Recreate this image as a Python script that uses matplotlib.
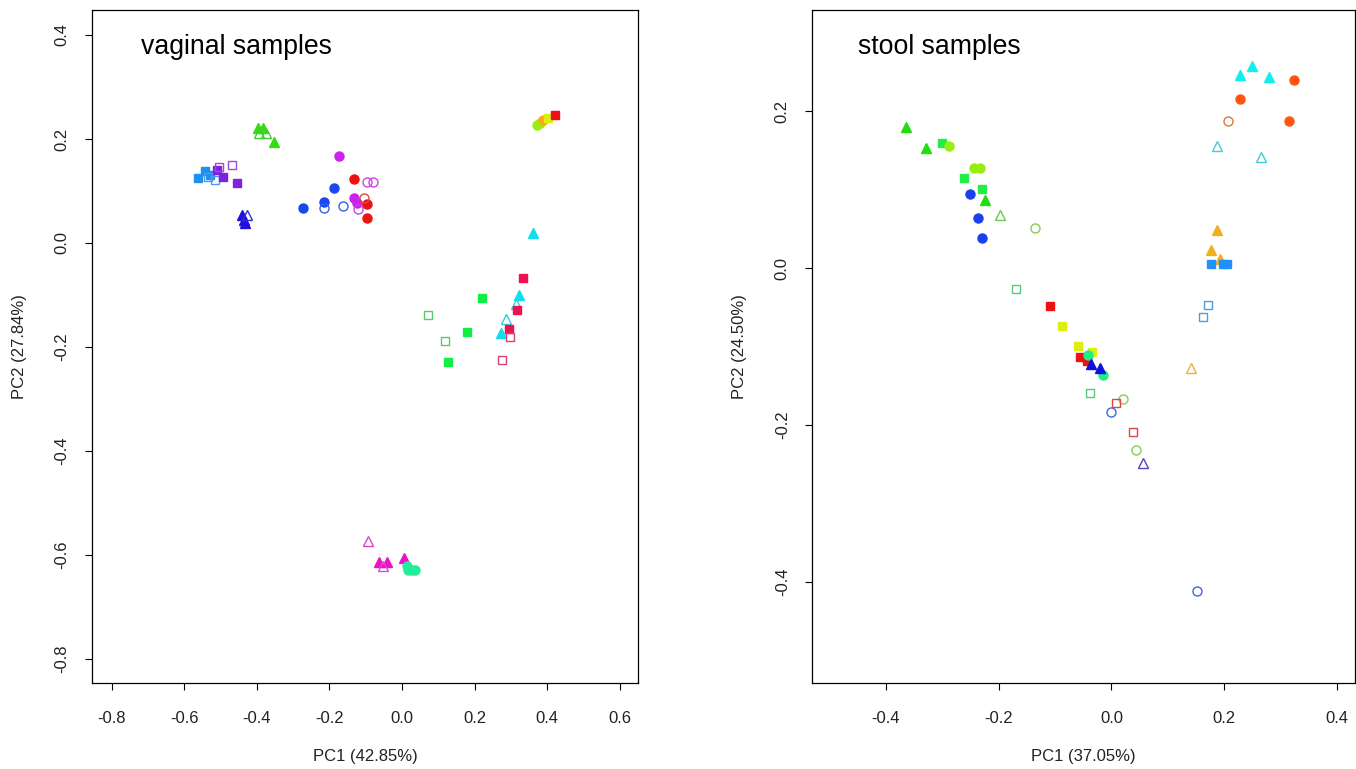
import matplotlib
matplotlib.use("Agg")
import matplotlib.pyplot as plt

plt.rcParams["font.family"] = ["Liberation Sans", "DejaVu Sans"]

# vaginal samples: PC1 / PC2 coordinates per group
vag_groups = {
    "ltblue_sq":      ([-0.563, -0.543, -0.529], [0.124, 0.138, 0.131]),
    "ltblue_sq_o":    ([-0.515, -0.535], [0.122, 0.126]),
    "purple_sq":      ([-0.509, -0.492, -0.455], [0.140, 0.126, 0.116]),
    "purple_sq_o":    ([-0.503, -0.467], [0.147, 0.150]),
    "green_tri":      ([-0.396, -0.382, -0.352], [0.221, 0.221, 0.195]),
    "green_tri_o":    ([-0.393, -0.375], [0.212, 0.212]),
    "blue_tri":       ([-0.442, -0.432, -0.436], [0.054, 0.038, 0.045]),
    "blue_tri_o":     ([-0.428], [0.054]),
    "blue_ci":        ([-0.272, -0.214, -0.186], [0.067, 0.078, 0.106]),
    "blue_ci_o":      ([-0.214, -0.163], [0.067, 0.072]),
    "violet_ci":      ([-0.174, -0.131, -0.124], [0.168, 0.087, 0.077]),
    "violet_ci_o":    ([-0.096, -0.079, -0.120], [0.117, 0.117, 0.065]),
    "red_ci":         ([-0.132, -0.097, -0.096], [0.123, 0.075, 0.048]),
    "red_ci_o":       ([-0.104], [0.086]),
    "cyan_tri":       ([0.362, 0.323, 0.272], [0.020, -0.100, -0.174]),
    "cyan_tri_o":     ([0.286, 0.314], [-0.147, -0.118]),
    "crimson_sq":     ([0.333, 0.316, 0.296], [-0.068, -0.129, -0.165]),
    "crimson_sq_o":   ([0.298, 0.275], [-0.181, -0.226]),
    "green_sq":       ([0.220, 0.178, 0.126], [-0.105, -0.171, -0.228]),
    "green_sq_o":     ([0.072, 0.118], [-0.138, -0.188]),
    "magenta_tri":    ([-0.063, -0.042, 0.006], [-0.613, -0.613, -0.605]),
    "magenta_tri_o":  ([-0.094, -0.051], [-0.574, -0.622]),
    "mint_ci":        ([0.013, 0.027, 0.036, 0.017], [-0.622, -0.628, -0.629, -0.629]),
    "yg_ci":          ([0.371, 0.380], [0.227, 0.231]),
    "orange_ci":      ([0.389], [0.237]),
    "yellow_sq":      ([0.403], [0.240]),
    "red_sq":         ([0.421], [0.246]),
}

# stool samples
stool_groups = {
    "green_tri":      ([-0.365, -0.328, -0.224], [0.180, 0.153, 0.087]),
    "green_tri_o":    ([-0.197], [0.068]),
    "green_sq":       ([-0.301, -0.261, -0.230], [0.159, 0.115, 0.101]),
    "yg_ci":          ([-0.288, -0.243, -0.233], [0.156, 0.128, 0.128]),
    "blue_ci":        ([-0.250, -0.236, -0.230], [0.095, 0.064, 0.038]),
    "cyan_tri":       ([0.250, 0.228, 0.279], [0.258, 0.246, 0.244]),
    "cyan_tri_o":     ([0.188, 0.265], [0.155, 0.141]),
    "orred_ci":       ([0.323, 0.228, 0.315], [0.240, 0.215, 0.188]),
    "orred_ci_o":     ([0.206], [0.188]),
    "ltgreen_ci_o":   ([-0.136, 0.021, 0.043], [0.051, -0.167, -0.232]),
    "green_sq_o":     ([-0.170, -0.038], [-0.027, -0.160]),
    "red_sq":         ([-0.109, -0.056, -0.044], [-0.048, -0.113, -0.119]),
    "yellow_sq":      ([-0.088, -0.059, -0.035], [-0.074, -0.100, -0.107]),
    "mint_ci":        ([-0.041, -0.015], [-0.111, -0.136]),
    "blue_tri":       ([-0.037, -0.020], [-0.122, -0.127]),
    "orange_tri":     ([0.188, 0.176, 0.192], [0.048, 0.023, 0.012]),
    "orange_tri_o":   ([0.141], [-0.127]),
    "dblue_sq":       ([0.177, 0.198, 0.205], [0.005, 0.005, 0.005]),
    "dblue_sq_o":     ([0.172, 0.163], [-0.047, -0.062]),
    "red_sq_o":       ([0.008, 0.039], [-0.172, -0.209]),
    "blue_ci_o":      ([0.000, 0.151], [-0.184, -0.412]),
    "slate_tri_o":    ([0.056], [-0.248]),
}

# marker, colour, filled
vag_style = {
    "ltblue_sq": ("s", "#1E90F0", True), "ltblue_sq_o": ("s", "#4A9BE8", False),
    "purple_sq": ("s", "#8020E0", True), "purple_sq_o": ("s", "#9A4BE0", False),
    "green_tri": ("^", "#33DD11", True), "green_tri_o": ("^", "#44CC33", False),
    "blue_tri": ("^", "#2010E0", True), "blue_tri_o": ("^", "#3030D8", False),
    "blue_ci": ("o", "#1A48F0", True), "blue_ci_o": ("o", "#3560E8", False),
    "violet_ci": ("o", "#CC22EE", True), "violet_ci_o": ("o", "#CC44DD", False),
    "red_ci": ("o", "#EE1111", True), "red_ci_o": ("o", "#E04444", False),
    "cyan_tri": ("^", "#11DDEE", True), "cyan_tri_o": ("^", "#33CCDD", False),
    "crimson_sq": ("s", "#EE1150", True), "crimson_sq_o": ("s", "#D04477", False),
    "green_sq": ("s", "#11EE44", True), "green_sq_o": ("s", "#55CC66", False),
    "magenta_tri": ("^", "#EE11CC", True), "magenta_tri_o": ("^", "#DD44CC", False),
    "mint_ci": ("o", "#22EE99", True),
    "yg_ci": ("o", "#99EE11", True), "orange_ci": ("o", "#FFAA11", True),
    "yellow_sq": ("s", "#DDEE11", True), "red_sq": ("s", "#EE1111", True),
}
stool_style = {
    "green_tri": ("^", "#22DD11", True), "green_tri_o": ("^", "#66CC55", False),
    "green_sq": ("s", "#22EE44", True), "yg_ci": ("o", "#99EE11", True),
    "blue_ci": ("o", "#1A3FEE", True),
    "cyan_tri": ("^", "#11EEEE", True), "cyan_tri_o": ("^", "#44CCDD", False),
    "orred_ci": ("o", "#FF5511", True), "orred_ci_o": ("o", "#DD7744", False),
    "ltgreen_ci_o": ("o", "#88CC55", False), "green_sq_o": ("s", "#55CC77", False),
    "red_sq": ("s", "#EE1111", True), "yellow_sq": ("s", "#DDEE11", True),
    "mint_ci": ("o", "#22EE88", True), "blue_tri": ("^", "#1111DD", True),
    "orange_tri": ("^", "#F0B020", True), "orange_tri_o": ("^", "#EEB044", False),
    "dblue_sq": ("s", "#1E90FF", True), "dblue_sq_o": ("s", "#5599DD", False),
    "red_sq_o": ("s", "#DD4444", False), "blue_ci_o": ("o", "#4466DD", False),
    "slate_tri_o": ("^", "#5544BB", False),
}

vag_xticks = [-0.8, -0.6, -0.4, -0.2, 0.0, 0.2, 0.4, 0.6]
vag_yticks = [-0.8, -0.6, -0.4, -0.2, 0.0, 0.2, 0.4]
stool_xticks = [-0.4, -0.2, 0.0, 0.2, 0.4]
stool_yticks = [-0.4, -0.2, 0.0, 0.2]


def draw(ax, groups, style):
    for key, (xs, ys) in groups.items():
        m, c, filled = style[key]
        ms = 7.5 if m == "^" else 6.5
        if m == "s":
            ms = 6.0
        ax.plot(xs, ys, linestyle="none", marker=m, markersize=ms,
                markerfacecolor=c if filled else "none", markeredgecolor=c,
                markeredgewidth=1.0)


def style_axes(ax, xticks, yticks):
    ax.set_xticks(xticks)
    ax.set_yticks(yticks)
    ax.set_xticklabels(["%.1f" % t for t in xticks])
    ax.set_yticklabels(["%.1f" % t for t in yticks], rotation=90, va="center")
    ax.tick_params(axis="both", labelsize=12, direction="out", length=5,
                   labelcolor="#222222")
    ax.tick_params(axis="x", pad=15)
    ax.tick_params(axis="y", pad=11)
    for s in ax.spines.values():
        s.set_linewidth(0.9)


fig = plt.figure(figsize=(13.56, 7.69), dpi=100)
ax1 = fig.add_axes([0.0678, 0.112, 0.4027, 0.875])
ax2 = fig.add_axes([0.5988, 0.112, 0.4005, 0.875])

draw(ax1, vag_groups, vag_style)
ax1.set_xlim(-0.854, 0.650)
ax1.set_ylim(-0.846, 0.448)
style_axes(ax1, vag_xticks, vag_yticks)
ax1.set_xlabel("PC1 (42.85%)", fontsize=12, labelpad=17, color="#222222")
ax1.set_ylabel("PC2 (27.84%)", fontsize=12, labelpad=20, color="#222222")
ax1.text(0.09, 0.945, "vaginal samples", transform=ax1.transAxes, fontsize=19.2,
         va="center", ha="left")

draw(ax2, stool_groups, stool_style)
ax2.set_xlim(-0.531, 0.432)
ax2.set_ylim(-0.529, 0.329)
style_axes(ax2, stool_xticks, stool_yticks)
ax2.set_xlabel("PC1 (37.05%)", fontsize=12, labelpad=17, color="#222222")
ax2.set_ylabel("PC2 (24.50%)", fontsize=12, labelpad=20, color="#222222")
ax2.text(0.085, 0.945, "stool samples", transform=ax2.transAxes, fontsize=19.2,
         va="center", ha="left")

fig.savefig("out.png", dpi=100)
